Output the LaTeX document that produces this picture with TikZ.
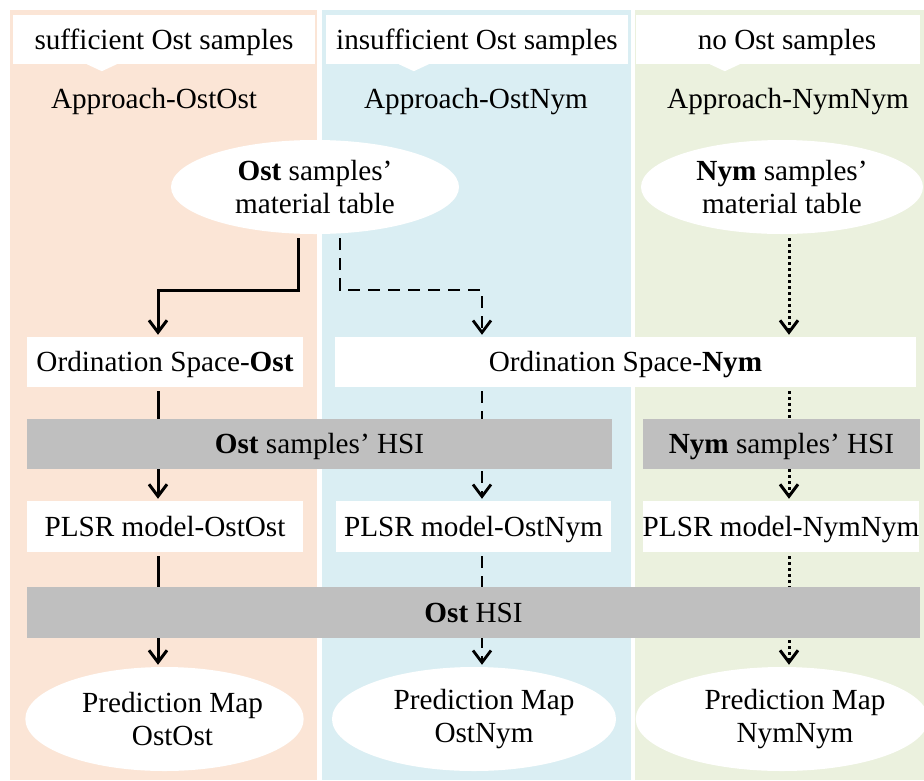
\documentclass[tikz,border=0pt]{standalone}
\usepackage{fontspec}
\setmainfont{Liberation Serif}
\usetikzlibrary{positioning,shapes.geometric,arrows.meta,calc}
\pgfdeclarelayer{back}
\pgfdeclarelayer{mid}
\pgfsetlayers{back,mid,main}
\definecolor{colOst}{HTML}{FBE5D6}
\definecolor{colMix}{HTML}{DAEEF3}
\definecolor{colNym}{HTML}{EBF1DE}
\definecolor{barGray}{HTML}{BFBFBF}

\begin{document}
\begin{tikzpicture}[x=1pt,y=-1pt]

\tikzstyle{txt}=[font=\fontsize{29.2}{33.5}\selectfont]
\tikzstyle{line}=[txt,text height=23pt,text depth=4pt]
\tikzstyle{head}=[line,fill=white,inner sep=0pt,minimum height=49pt]
\tikzstyle{box}=[line,fill=white,inner sep=0pt,minimum height=51pt]
\tikzstyle{bar}=[line,fill=barGray,inner sep=0pt,minimum height=50pt]
\tikzstyle{oval}=[txt,ellipse,fill=white,inner sep=0pt,align=center]
\tikzstyle{flow}=[line width=3pt,-{Straight Barb[length=12pt,width=18pt]},shorten <=4pt,shorten >=2pt]
\tikzstyle{flowdash}=[flow,line width=2.8pt,dash pattern=on 12pt off 8pt]
\tikzstyle{flowdot}=[flow,dash pattern=on 3pt off 3pt]

\useasboundingbox (0,0) rectangle (924,780);

% Spalty

\begin{pgfonlayer}{back}
\fill[colOst] (10,10) rectangle (317,780);
\fill[colMix] (322,10) rectangle (631,780);
\fill[colNym] (635,10) rectangle (924,780);
\end{pgfonlayer}

% Naglowki

\node (hdost) [head,minimum width=302pt] at (164,39.5) {sufficient Ost samples};
\node (hdmix) [head,minimum width=302pt] at (477,39.5) {insufficient Ost samples};
\node (hdnym) [head,minimum width=284pt] at (778,39.5) {\hspace*{18pt}no Ost samples};

\fill[white] ([xshift=74pt]hdost.south west) -- ++(15,7) -- ++(15,-7) -- cycle;
\fill[white] ([xshift=73pt]hdmix.south west) -- ++(15,7) -- ++(15,-7) -- cycle;
\fill[white] ([xshift=74pt]hdnym.south west) -- ++(15,7) -- ++(15,-7) -- cycle;

\node (apost) [line] at (154,99) {Approach-OstOst};
\node (apmix) [line] at (476,99) {Approach-OstNym};
\node (apnym) [line] at (788,99) {Approach-NymNym};

% Tabele

\node (matost) [oval,minimum width=288pt,minimum height=94pt] at (315,187) {\textbf{Ost} samples’\\material table};
\node (matnym) [oval,minimum width=282pt,minimum height=94pt] at (782,187) {\textbf{Nym} samples’\\material table};

% Przestrzenie

\node (ordost) [box,minimum width=276pt,minimum height=50pt] at (165,362) {Ordination Space-\textbf{Ost}};
\node (ordnym) [box,minimum width=581pt,minimum height=50pt] at (625.5,362) {Ordination Space-\textbf{Nym}};

% HSI

\node (hsiost) [bar,minimum width=585pt] at (319.5,444) {\textbf{Ost} samples’ HSI};
\node (hsinym) [bar,minimum width=277pt] at (781.5,444) {\textbf{Nym} samples’ HSI};

% Modele

\node (plsrost) [box,minimum width=276pt] at (165,526.5) {PLSR model-OstOst};
\node (plsrmix) [box,minimum width=275pt] at (473.5,526.5) {PLSR model-OstNym};
\node (plsrnym) [box,minimum width=276pt] at (781,526.5) {PLSR model-NymNym};

\node (hsiall) [bar,minimum width=893pt,minimum height=51pt] at (473.5,612.5) {\textbf{Ost} HSI};

% Mapy

\node (mapost) [oval,minimum width=275pt,minimum height=104pt] at (164.5,719) {\hspace*{16pt}Prediction Map\\\hspace*{16pt}OstOst};
\node (mapmix) [oval,minimum width=274pt,minimum height=104pt] at (474,719) {\hspace*{20pt}Prediction Map\\\hspace*{20pt}OstNym};
\node (mapnym) [oval,minimum width=278pt,minimum height=104pt] at (782,719) {\hspace*{26pt}Prediction Map\\\hspace*{26pt}NymNym};

% Strzalki

\coordinate (c1) at (158,0);
\coordinate (c2) at (482,0);
\coordinate (c3) at (789,0);
\coordinate (s1) at (298,0);
\coordinate (s2) at (340,0);
\coordinate (turn) at (0,290);

\begin{pgfonlayer}{mid}
\draw [flow] (matost.south -| s1) -- (s1 |- turn) -- (c1 |- turn) -- (ordost.north -| c1);
\draw [flowdash] (matost.south -| s2) -- (s2 |- turn) -- (c2 |- turn) -- (ordnym.north -| c2);
\draw [flowdot] (matnym.south -| c3) -- (ordnym.north -| c3);

\draw [flow] (ordost.south -| c1) -- (plsrost.north -| c1);
\draw [flowdash] (ordnym.south -| c2) -- (plsrmix.north -| c2);
\draw [flowdot] (ordnym.south -| c3) -- (plsrnym.north -| c3);

\draw [flow] (plsrost.south -| c1) -- (mapost.north -| c1);
\draw [flowdash] (plsrmix.south -| c2) -- (mapmix.north -| c2);
\draw [flowdot] (plsrnym.south -| c3) -- (mapnym.north -| c3);
\end{pgfonlayer}

\end{tikzpicture}
\end{document}
